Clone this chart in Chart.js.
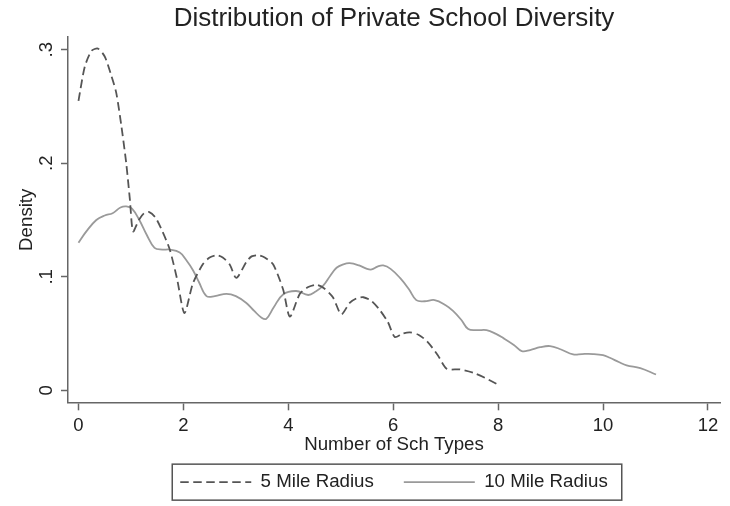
<!DOCTYPE html>
<html>
<head>
<meta charset="utf-8">
<title>Distribution of Private School Diversity</title>
<script src="https://cdn.jsdelivr.net/npm/chart.js@4"></script>
<style>
  html, body { margin: 0; padding: 0; background: #fff; }
  #wrap { width: 730px; height: 506px; }
</style>
</head>
<body>
<div id="wrap"><canvas id="myChart"></canvas></div>
<script>
// 5 mile radius kernel density (dashed)
let x5 = [0, 0.12, 0.25, 0.37, 0.5, 0.62, 0.72, 0.82, 0.91, 0.98, 1.04, 1.15, 1.25, 1.35, 1.47, 1.6, 1.74, 1.88,
  2.02, 2.18, 2.37, 2.5, 2.63, 2.75, 2.88, 3.01, 3.2, 3.3, 3.42, 3.55, 3.71, 3.9, 4.03, 4.22, 4.38, 4.54, 4.68,
  4.85, 5.01, 5.17, 5.3, 5.43, 5.58, 5.74, 5.9, 6.03, 6.18, 6.32, 6.48, 6.65, 6.85, 7.02, 7.27, 7.53, 7.75, 8.0];
let y5 = [0.255, 0.285, 0.299, 0.301, 0.294, 0.278, 0.262, 0.232, 0.200, 0.168, 0.140, 0.150, 0.156, 0.157, 0.152,
  0.140, 0.124, 0.098, 0.068, 0.094, 0.111, 0.117, 0.119, 0.117, 0.111, 0.099, 0.113, 0.118, 0.119, 0.117, 0.111,
  0.089, 0.065, 0.085, 0.091, 0.093, 0.090, 0.082, 0.067, 0.077, 0.081, 0.082, 0.079, 0.071, 0.060, 0.047, 0.050,
  0.051, 0.049, 0.043, 0.031, 0.019, 0.0185, 0.0155, 0.011, 0.005];

// 10 mile radius kernel density (solid)
let x10 = [0, 0.15, 0.34, 0.5, 0.65, 0.8, 0.91, 1.02, 1.16, 1.3, 1.45, 1.6, 1.74, 1.93, 2.05, 2.18, 2.3, 2.44, 2.6,
  2.82, 3.0, 3.2, 3.35, 3.49, 3.58, 3.72, 3.9, 4.15, 4.38, 4.52, 4.66, 4.8, 4.92, 5.05, 5.17, 5.35, 5.5, 5.59, 5.7,
  5.81, 5.95, 6.13, 6.3, 6.44, 6.6, 6.79, 7.0, 7.14, 7.3, 7.43, 7.6, 7.78, 7.95, 8.1, 8.3, 8.45, 8.61, 8.8, 8.99,
  9.2, 9.43, 9.6, 9.81, 10.0, 10.13, 10.3, 10.45, 10.71, 11.01];
let y10 = [0.130, 0.140, 0.150, 0.154, 0.156, 0.161, 0.162, 0.160, 0.150, 0.137, 0.1255, 0.124, 0.124, 0.1215,
  0.115, 0.106, 0.095, 0.083, 0.083, 0.085, 0.083, 0.077, 0.070, 0.064, 0.063, 0.073, 0.0845, 0.0875, 0.084, 0.087,
  0.092, 0.101, 0.108, 0.111, 0.112, 0.110, 0.107, 0.1065, 0.109, 0.110, 0.107, 0.099, 0.089, 0.0795, 0.0785,
  0.0795, 0.075, 0.070, 0.062, 0.054, 0.053, 0.053, 0.050, 0.046, 0.040, 0.0346, 0.0355, 0.038, 0.039, 0.036,
  0.0317, 0.032, 0.032, 0.031, 0.0287, 0.025, 0.022, 0.0196, 0.014];

let xTicks = [0, 2, 4, 6, 8, 10, 12];
let yTicks = [0, 0.1, 0.2, 0.3];

let font = 'Liberation Sans, Arial, Helvetica, sans-serif';
let axisColor = '#666666';

function pairs(xs, ys) {
  return xs.map((x, i) => ({ x: x, y: ys[i] }));
}

// Stata style frame around the legend
let legendFrame = {
  id: 'legendFrame',
  afterDraw(chart) {
    let lg = chart.legend;
    if (!lg || !lg.legendHitBoxes.length) return;
    let boxes = lg.legendHitBoxes;
    let first = boxes[0];
    let last = boxes[boxes.length - 1];
    let midY = first.top + first.height / 2;
    let ctx = chart.ctx;
    ctx.save();
    ctx.strokeStyle = '#555555';
    ctx.lineWidth = 1.5;
    ctx.strokeRect(first.left - 8, midY - 18, last.left + last.width - first.left + 22, 36);
    ctx.restore();
  }
};

let ctx = document.getElementById('myChart').getContext('2d');

let chart = new Chart(ctx, {
  type: 'line',
  data: {
    datasets: [{
      label: '5 Mile Radius',
      data: pairs(x5, y5),
      borderColor: '#555555',
      borderWidth: 1.8,
      borderDash: [8.5, 4.5],
      pointRadius: 0,
      tension: 0.25,
      fill: false
    }, {
      label: '10 Mile Radius',
      data: pairs(x10, y10),
      borderColor: '#9a9a9a',
      borderWidth: 1.8,
      pointRadius: 0,
      tension: 0.4,
      fill: false
    }]
  },
  options: {
    responsive: true,
    maintainAspectRatio: false,
    animation: false,
    layout: { padding: { left: 0, right: 10, top: 0, bottom: 4.5 } },
    scales: {
      x: {
        type: 'linear',
        min: -0.2,
        max: 12.23,
        afterBuildTicks: s => { s.ticks = xTicks.map(v => ({ value: v })); },
        afterFit: s => { s.height = 40.5; },
        grid: { drawOnChartArea: false, drawTicks: true, tickLength: 8, tickColor: axisColor, tickWidth: 1.5 },
        border: { display: true, color: axisColor, width: 1.5 },
        ticks: { padding: 5, color: '#222', font: { family: font, size: 18.5 }, maxRotation: 0 },
        title: {
          display: true,
          text: 'Number of Sch Types',
          color: '#222',
          font: { family: font, size: 18.7 },
          padding: { top: 0, bottom: -13 }
        }
      },
      y: {
        min: -0.0105,
        max: 0.311,
        afterBuildTicks: s => { s.ticks = yTicks.map(v => ({ value: v })); },
        afterFit: s => { s.width = 68; },
        grid: { drawOnChartArea: false, drawTicks: true, tickLength: 7, tickColor: axisColor, tickWidth: 1.5 },
        border: { display: true, color: axisColor, width: 1.5 },
        ticks: {
          padding: 6.5,
          color: '#222',
          font: { family: font, size: 18.5 },
          minRotation: 90,
          maxRotation: 90,
          crossAlign: 'center',
          callback: v => v === 0 ? '0' : String(v).replace(/^0\./, '.')
        },
        title: {
          display: true,
          text: 'Density',
          color: '#222',
          font: { family: font, size: 18.7 },
          padding: { top: 15.5, bottom: 0 }
        }
      }
    },
    plugins: {
      title: {
        display: true,
        fullSize: false,
        text: 'Distribution of Private School Diversity',
        color: '#222',
        font: { family: font, size: 26, weight: 'normal' },
        padding: { top: 3.5, bottom: 2.5 }
      },
      legend: {
        position: 'bottom',
        fullSize: false,
        labels: {
          usePointStyle: true,
          pointStyle: 'line',
          pointStyleWidth: 71,
          padding: 30,
          color: '#222',
          font: { family: font, size: 18.7 },
          // keep the dataset's dash and width on the legend sample line
          generateLabels: c => Chart.defaults.plugins.legend.labels.generateLabels(c).map(item => {
            let ds = c.data.datasets[item.datasetIndex];
            item.lineDash = ds.borderDash || [];
            item.lineWidth = ds.borderWidth;
            item.strokeStyle = ds.borderColor;
            return item;
          })
        }
      },
      tooltip: { enabled: false }
    }
  },
  plugins: [legendFrame]
});
</script>
</body>
</html>
